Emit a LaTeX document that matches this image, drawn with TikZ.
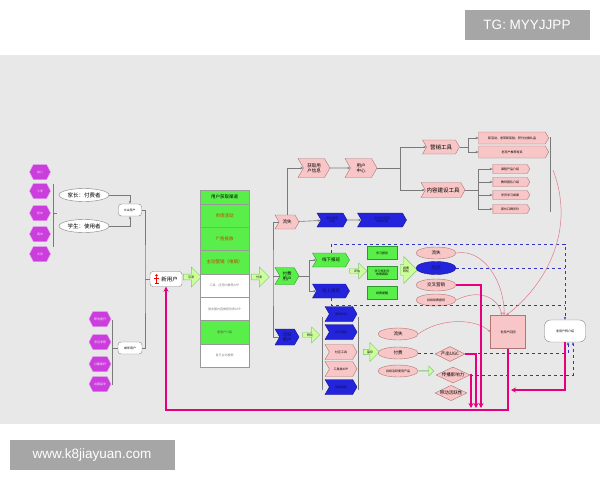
\documentclass[tikz,border=0pt]{standalone}
\usepackage{fontspec}
\setmainfont{Noto Sans CJK SC}
\newfontfamily\wmfont{Liberation Sans}
\usetikzlibrary{arrows.meta,positioning,shapes.geometric,shapes.symbols,shapes.arrows,calc}
\definecolor{bg}{HTML}{E8E8E8}
\definecolor{wm}{HTML}{A6A6A6}
\definecolor{hexf}{HTML}{CC3DDD}
\definecolor{pinkf}{HTML}{F8C6C6}
\definecolor{pinkd}{HTML}{B07474}
\definecolor{grf}{HTML}{5AEE4A}
\definecolor{grd}{HTML}{2A9A2A}
\definecolor{lgr}{HTML}{CCFF99}
\definecolor{blf}{HTML}{2424DC}
\definecolor{mag}{HTML}{E6007E}
\definecolor{dsh}{HTML}{3434BC}
\definecolor{ora}{HTML}{CC3300}
\definecolor{gl}{HTML}{7A7A7A}
\definecolor{pl}{HTML}{E07888}
\newcommand\szt{\fontsize{3}{3.6}\selectfont}
\newcommand\szb{\fontsize{4.5}{5.2}\selectfont}
\newcommand\szc{\fontsize{5.5}{6.5}\selectfont}
\begin{document}
\begin{tikzpicture}[x=1pt, y=-1pt, >={Stealth[length=3pt,width=2.4pt]},
  every node/.style={inner sep=0pt, align=center},
  wmbox/.style={fill=wm, text=white, font=\wmfont\fontsize{13.5}{15}\selectfont, minimum height=30pt},
  hexa/.style={signal, signal to=east and west, signal pointer angle=125, draw=hexf!55, fill=hexf, text=white!85!hexf, font=\szt, minimum width=21pt, minimum height=15pt},
  chev/.style={signal, signal from=west, signal to=east, signal pointer angle=120, draw=pinkd, fill=pinkf, font=\szb, minimum width=24pt, minimum height=14pt},
  gchev/.style={chev, fill=grf, draw=grd},
  bchev/.style={chev, fill=blf, draw=blf!60!black, text=blf!45!black},
  ell/.style={ellipse, draw=gray, fill=white, font=\szc, minimum width=50pt, minimum height=13pt},
  pell/.style={ellipse, draw=pinkd, fill=pinkf, font=\szb, minimum width=40pt, minimum height=12pt},
  ubox/.style={rectangle, rounded corners=3pt, draw=gray, fill=white},
  chrow/.style={rectangle, draw=gray!80, minimum width=49pt, minimum height=23.3pt},
  gbox/.style={rectangle, draw=grd, fill=grf, font=\szt, minimum width=30pt, minimum height=13pt},
  garr/.style={single arrow, single arrow head extend=4pt, draw=grd!60, fill=lgr, font=\szt, minimum height=18pt, minimum width=20pt},
  dia/.style={diamond, aspect=2, draw=pinkd, fill=pinkf, font=\szb},
  gline/.style={draw=gl, line width=0.6pt},
  pline/.style={draw=pl, line width=0.5pt},
  dline/.style={draw=dsh, dashed, line width=0.9pt},
  mline/.style={draw=mag, line width=2pt, >={Stealth[length=5pt,width=5pt]}}]
\useasboundingbox (0,0) rectangle (600,480);
\fill[white] (0,0) rectangle (600,480);
\fill[bg] (0,55) rectangle (600,424);
\node[wmbox, minimum width=125pt] (tg) at (527,25) {TG: MYYJJPP};
\node[wmbox, minimum width=165pt] (site) at (92,455) {www.k8jiayuan.com};

% user groups
\foreach \y/\t [count=\i] in {172/幼儿,191/小学,213/初中,234/高中,254/大学} \node[hexa] (k\i) at (40,\y) {\t};
\foreach \y/\t [count=\i] in {319/职场提升,342/考证考研,364/兴趣爱好,384/出国留学} \node[hexa, minimum width=22pt] (h\i) at (100,\y) {\t};
\node[ell] (par) at (84,195) {家长：付费者};
\node[ell] (stu) at (84,226) {学生：使用者};
\node[ubox, font=\szt, minimum width=23pt, minimum height=12pt] (k12) at (130,210) {K12用户};
\node[ubox, font=\szt, minimum width=24pt, minimum height=12pt] (adult) at (130,348) {成年用户};
\node[ubox, font=\szc, minimum width=32pt, minimum height=15pt] (new) at (166,279) {\hspace{7pt}新用户};
\fill[red] (156.5,275.5) circle (1.3pt);
\draw[red, line width=0.6pt] (154,278.5) -- (159,278.5) (156.5,277) -- (156.5,283) (154.5,283) -- (158.5,283);
\draw[gline] ($(k2.east)+(2.5,-7)$) -- ($(k4.east)+(2.5,13)$);
\draw[gline] ($(k3.east)+(2.5,0)$) -- ++(4,0);
\draw[gline] ($(h1.east)+(1,1)$) -- ($(h4.east)+(1,1)$);
\draw[gline] (adult.west) -- ++(-6,0);
\draw[gline,->] (par.east) -| (k12.north);
\draw[gline,->] (stu.east) -| (k12.south);
\coordinate (kb) at (145,279);
\draw[gline] (k12.east) -| (kb) |- (adult.east);
\draw[gline] (kb) -- (new.west);

% channels
\node[garr] (ga1) at (191,277) {引流};
\node[chrow, fill=grf, font=\szb, minimum height=14pt] (chh) at (224.5,197) {用户获取渠道};
\foreach \f/\c/\z/\t [count=\i] in {grf/ora/\szb/市场活动, grf/ora/\szb/广告投放, grf/ora/\szb/主动营销（电销）, white/gray/\szt/工具、应用内推荐APP, white/gray/\szt/朋友圈内容推荐优质APP, grf/gray!60!black/\szt/老用户介绍, white/gray/\szt/自己主动搜索}
  \node[chrow, fill=\f, text=\c, font=\z] (ch\i) at (224.5,192.35+23.3*\i) {\t};
\node[garr] (ga2) at (259,277) {分流};

% user states
\node[chev] (lost) at (287,222) {流失};
\node[gchev, minimum height=17pt] (paid) at (287,276) {付费\\用户};
\node[bchev, minimum height=16pt] (act) at (287,337) {活跃\\用户};
\coordinate (sp) at (273,276);
\draw[gline] (lost.west) -| (sp) |- (act.west);
\draw[gline] (sp) -- (paid.west);

% lost users
\node[chev, minimum width=32pt, minimum height=19pt] (info) at (314,168) {获取用\\户信息};
\node[chev, minimum width=32pt, minimum height=19pt] (uc) at (361,168) {用户\\中心};
\draw[gline,->] (lost.north) |- (info.west);
\draw[gline,->] (info) -- (uc);
\node[chev, font=\szc, minimum width=37pt] (mt) at (441,147) {营销工具};
\node[chev, font=\szc, minimum width=44pt, minimum height=15pt] (ct) at (443,190) {内容建设工具};
\coordinate (b1) at (400,168);
\draw[gline] (uc.east) -- (b1);
\draw[gline,->] (b1) |- (mt.west);
\draw[gline,->] (b1) |- (ct.west);
\foreach \y/\t [count=\i] in {138/新活动、老带新奖励、积分兑换礼品, 152/老用户推荐有奖}
  \node[chev, signal from=nowhere, font=\szt, minimum width=70pt, minimum height=12pt] (m\i) at (512,\y) {\t};
\foreach \y/\t [count=\i] in {169/课程产品介绍, 182/教师团队介绍, 195/学员学习成果, 209/家长口碑评价}
  \node[chev, signal from=nowhere, font=\szt, minimum width=37pt, minimum height=9pt] (c\i) at (510,\y) {\t};
\coordinate (b2) at (468,147);
\coordinate (b3) at (478,190);
\draw[gline] (mt.east) -- (b2);
\draw[gline] (ct.east) -- (b3);
\foreach \i in {1,2} \draw[gline,->] (b2) |- (m\i.west);
\foreach \i in {1,...,4} \draw[gline,->] (b3) |- (c\i.west);
\draw[gline] (550,137) -- (550,212);
\node[bchev, font=\szt, minimum width=30pt] (bl1) at (332,220) {流失原因\\分析};
\node[bchev, font=\szt, minimum width=49pt] (bl2) at (382,220) {针对性召回\\营销方案};
\draw[gline,->] (lost) -- (bl1);
\draw[gline,->] (bl1) -- (bl2);

% paying users
\node[gchev, minimum width=37pt] (off) at (331,260) {线下报班};
\node[bchev, minimum width=37pt] (on) at (331,291) {线上报班};
\coordinate (pb) at (309,276);
\draw[gline] (paid.east) -- (pb);
\draw[gline,->] (pb) |- (off.west);
\draw[gline,->] (pb) |- (on.west);
\node[garr, minimum height=17pt, minimum width=16pt] (ga3) at (357,271) {评估};
\foreach \y/\t [count=\i] in {253/学习报告, 273/学习规划与\\效果跟踪, 293/续费提醒} \node[gbox] (g\i) at (382,\y) {\t};
\node[garr, single arrow head extend=5pt, minimum height=17pt, minimum width=27pt] (ga4) at (406,270) {续费\\转化};
\node[pell] (e1) at (436,253) {流失};
\node[pell, fill=blf, draw=blf!60!black, text=blf!45!black, minimum height=13pt] (e2) at (436,268) {回流};
\node[pell] (e3) at (436,285) {交叉营销};
\node[pell, font=\szt] (e4) at (436,300) {持续续费报班};
\node[rectangle, draw=pinkd, fill=pinkf, font=\szt, minimum width=35pt, minimum height=33pt] (ob) at (508,332) {老用户回团};
\node[ubox, rounded corners=6pt, font=\szt, minimum width=41pt, minimum height=22pt] (ort) at (565,331) {老用户转介绍};
\coordinate (dtop) at (565,244);
\coordinate (dbot) at (565,305);
\draw[dline,->] (off.north) |- (dtop) -- (ort.north);
\draw[dline] (on.south) |- (dbot);
\draw[dline] (e2.east) -- (dtop |- e2.east);
\draw[pline,->] (e1.east) .. controls (485,248) and (505,285) .. ([xshift=-4pt]ob.north);
\draw[pline,->] (e4.east) .. controls (480,288) and (498,298) .. ([xshift=-6pt]ob.north);
\draw[pline,->] (553,170) .. controls (578,235) and (540,290) .. ([xshift=-2pt]ob.north);

% active users
\node[garr, minimum height=17pt, minimum width=16pt] (ga5) at (310,335) {转化};
\foreach \y/\s/\t [count=\i] in {314/bchev/课程体验, 332/bchev/试听课程, 352/chev/社区工具, 369/chev/工具类APP, 387/bchev/直播课程}
  \node[\s, font=\szt, minimum width=32pt, minimum height=15pt] (t\i) at (341,\y) {\t};
\draw[gline] (322,317) -- (322,390);
\draw[gline] (358,317) -- (358,390);
\node[garr, minimum height=16pt, minimum width=19pt] (ga6) at (370,352) {留存};
\node[pell] (f1) at (398,334) {流失};
\node[pell] (f2) at (398,353) {付费};
\node[pell, font=\szt] (f3) at (398,371) {持续活跃使用产品};
\node[garr, single arrow head extend=2pt, minimum height=15pt, minimum width=10pt] (ga7) at (426,371) {};
\draw[pline,->] (f1.east) .. controls (440,318) and (475,318) .. (ob.west);
\draw[dline,->] (f2.east) -| ([xshift=3pt]ort.south);
\node[dia, minimum width=30pt, minimum height=15pt] (d1) at (450,354) {产出UGC};
\node[dia, minimum width=34pt, minimum height=16pt] (d2) at (453,375) {传播影响力};
\node[dia, minimum width=32pt, minimum height=13pt] (d3) at (451,393) {带动活跃性};
\draw[dline,->] (d2.east) -| ([xshift=8pt]ort.south);

% feedback loop
\coordinate (lp) at (166,410);
\coordinate (oj) at (511,390);
\draw[mline,->] (e3.east) -| (481,408);
\draw[mline,->] (d1.east) -| (476,408);
\draw[mline,->] (d2.east) -| (471,408);
\draw[mline,->] (ob.south) |- (lp) -- (new.south);
\draw[mline,->] (ort.south) |- (oj);
\end{tikzpicture}
\end{document}
